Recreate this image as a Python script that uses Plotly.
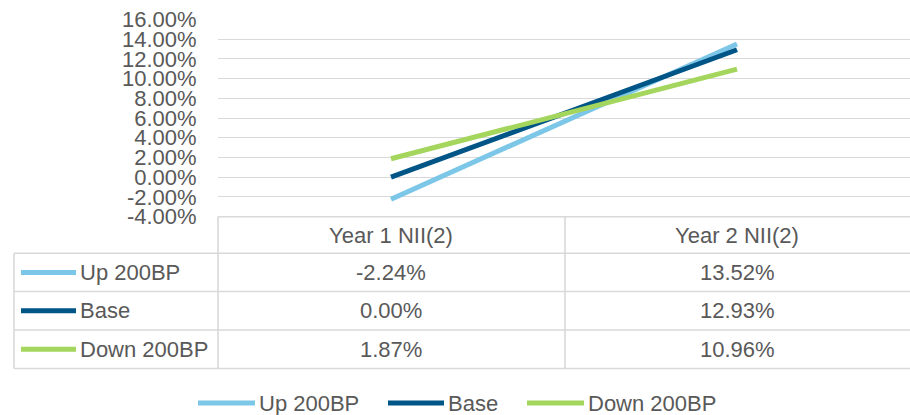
import plotly.graph_objects as go

# ---- data ----
categories = ["Year 1 NII(2)", "Year 2 NII(2)"]
series_names = ["Up 200BP", "Base", "Down 200BP"]
up_200bp = [-2.24, 13.52]
base = [0.00, 12.93]
down_200bp = [1.87, 10.96]
y_ticks = [-4, -2, 0, 2, 4, 6, 8, 10, 12, 14, 16]

# ---- style ----
colors = ["#7CC6E8", "#005587", "#A4D65E"]
text_color = "#595959"
grid_color = "#D9D9D9"
FONT = "Liberation Sans, Arial, sans-serif"
FS = 22
W, H = 910, 415

def fy(p):
    return 1 - p / H

def fx(p):
    return p / W

series_values = [up_200bp, base, down_200bp]

fig = go.Figure()
for name, vals, c in zip(series_names, series_values, colors):
    fig.add_trace(go.Scatter(
        x=categories, y=vals, mode="lines", name=name,
        line=dict(color=c, width=5), showlegend=False, hoverinfo="skip",
    ))

plot_top, plot_bottom = 19.3, 216.6
plot_left = 218

fig.update_layout(
    width=W, height=H,
    margin=dict(l=0, r=0, t=0, b=0, pad=0, autoexpand=False),
    showlegend=False,
    paper_bgcolor="white", plot_bgcolor="white",
    font=dict(family=FONT, size=FS, color=text_color),
    xaxis=dict(
        type="category", range=[-0.5, 1.5], domain=[fx(plot_left), 1],
        showticklabels=False, showgrid=False, zeroline=False, showline=False,
        automargin=False,
    ),
    yaxis=dict(
        range=[-4, 16.02], domain=[fy(plot_bottom), fy(plot_top)],
        tickvals=y_ticks, ticktext=[f"{v:.2f}%" for v in y_ticks],
        showgrid=True, gridcolor=grid_color, gridwidth=1,
        zeroline=False, showline=False,
        ticks="outside", ticklen=16, tickcolor="rgba(0,0,0,0)",
        tickfont=dict(family=FONT, size=FS, color=text_color),
        automargin=False,
    ),
)

# ---- data table ----
border = dict(color=grid_color, width=1.6)
table_top = 216.8
row_lines = [253.3, 291.5, 330.0, 368.5]
table_left = 14
col_divs = [218, 565]

shapes = []
shapes.append(dict(type="line", xref="paper", yref="paper",
                   x0=fx(plot_left), x1=1, y0=fy(table_top), y1=fy(table_top), line=border))
for r in row_lines:
    shapes.append(dict(type="line", xref="paper", yref="paper",
                       x0=fx(table_left), x1=1, y0=fy(r), y1=fy(r), line=border))
shapes.append(dict(type="line", xref="paper", yref="paper",
                   x0=fx(table_left), x1=fx(table_left), y0=fy(row_lines[0]), y1=fy(row_lines[-1]), line=border))
for cx in col_divs:
    shapes.append(dict(type="line", xref="paper", yref="paper",
                       x0=fx(cx), x1=fx(cx), y0=fy(table_top), y1=fy(row_lines[-1]), line=border))

annotations = []
header_y = (table_top + row_lines[0]) / 2
for cat in categories:
    annotations.append(dict(x=cat, xref="x", y=fy(header_y), yref="paper",
                            text=cat, showarrow=False, xanchor="center", yanchor="middle",
                            font=dict(family=FONT, size=FS, color=text_color)))

row_centers = [(row_lines[i] + row_lines[i + 1]) / 2 for i in range(3)]
for name, vals, c, yc in zip(series_names, series_values, colors, row_centers):
    shapes.append(dict(type="line", xref="paper", yref="paper",
                       x0=fx(21), x1=fx(76), y0=fy(yc), y1=fy(yc),
                       line=dict(color=c, width=5)))
    annotations.append(dict(x=fx(78), xref="paper", y=fy(yc), yref="paper",
                            text=name, showarrow=False, xanchor="left", yanchor="middle",
                            font=dict(family=FONT, size=FS, color=text_color)))
    for cat, v in zip(categories, vals):
        annotations.append(dict(x=cat, xref="x", y=fy(yc), yref="paper",
                                text=f"{v:.2f}%", showarrow=False, xanchor="center", yanchor="middle",
                                font=dict(family=FONT, size=FS, color=text_color)))

# ---- bottom legend ----
legend_y = 403
legend_keys = [(198, 255), (388, 444), (527, 584)]
for name, c, (k0, k1) in zip(series_names, colors, legend_keys):
    shapes.append(dict(type="line", xref="paper", yref="paper",
                       x0=fx(k0), x1=fx(k1), y0=fy(legend_y), y1=fy(legend_y),
                       line=dict(color=c, width=5)))
    annotations.append(dict(x=fx(k1 + 2), xref="paper", y=fy(legend_y), yref="paper",
                            text=name, showarrow=False, xanchor="left", yanchor="middle",
                            font=dict(family=FONT, size=FS, color=text_color)))

fig.update_layout(shapes=shapes, annotations=annotations)
fig.write_html("out.html")
